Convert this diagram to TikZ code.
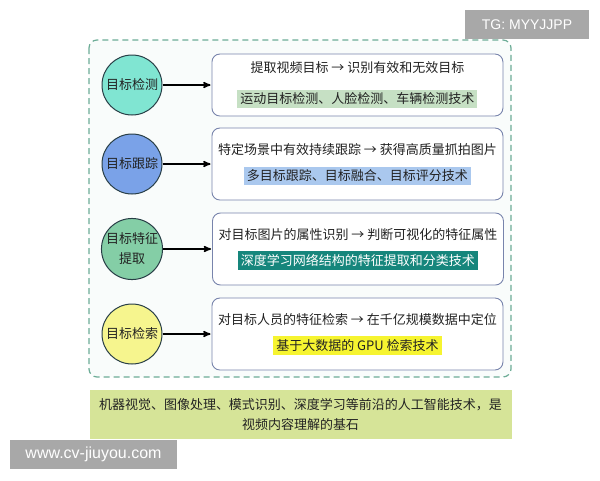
\documentclass[tikz,border=0pt]{standalone}
\usepackage{fontspec}
\setmainfont{Noto Sans CJK SC}
\newfontfamily\wmfont{Liberation Sans}
\usetikzlibrary{arrows,positioning}
\definecolor{framecol}{RGB}{108,172,150}
\definecolor{boxline}{RGB}{120,132,172}
\definecolor{ringline}{RGB}{40,62,70}
\definecolor{fdet}{RGB}{128,229,210}
\definecolor{ftrk}{RGB}{122,162,232}
\definecolor{ffea}{RGB}{132,206,166}
\definecolor{fret}{RGB}{246,245,142}
\definecolor{hldet}{RGB}{198,224,196}
\definecolor{hltrk}{RGB}{170,200,238}
\definecolor{hlfea}{RGB}{22,134,124}
\definecolor{hlret}{RGB}{246,244,48}
\definecolor{basefill}{RGB}{214,228,152}
\definecolor{txt}{RGB}{34,34,34}
\setlength{\fboxsep}{3pt}

\begin{document}
\begin{tikzpicture}[x=1pt,y=-1pt,>=stealth',shorten >=1pt,node distance=85pt,
		thick,text=txt,
		task node/.style={circle,draw=ringline,line width=1pt,minimum size=60pt,inner sep=0pt,
			align=center,font=\fontsize{13}{20}\selectfont},
		info node/.style={rectangle,rounded corners=8pt,draw=boxline,line width=0.9pt,fill=white,
			minimum width=291pt,minimum height=72pt,align=center,font=\fontsize{13}{16}\selectfont},
		wm node/.style={rectangle,fill=black!34,text=white,inner sep=0pt,minimum height=29pt,
			font=\wmfont}]
		
		\useasboundingbox (0,0) rectangle (600,480);
		\draw[framecol,dashed,dash pattern=on 6pt off 4pt,line width=1.2pt,rounded corners=8pt,
			fill=framecol!4] (89,40) rectangle (511,377);
		
		\node[task node,fill=fdet] (det) at (132,85) {目标检测};
		\node[task node,fill=ftrk] (trk) [below of=det,node distance=79pt] {目标跟踪};
		\node[task node,fill=ffea] (fea) [below of=trk] {目标特征\\提取};
		\node[task node,fill=fret] (ret) [below of=fea] {目标检索};
		
		\node[info node,minimum height=62pt] (detbox) [right=49pt of det]
			{提取视频目标 → 识别有效和无效目标\\[15pt]\colorbox{hldet}{运动目标检测、人脸检测、车辆检测技术}};
		\node[info node] (trkbox) [right=49pt of trk]
			{特定场景中有效持续跟踪 → 获得高质量抓拍图片\\[10pt]\colorbox{hltrk}{多目标跟踪、目标融合、目标评分技术}};
		\node[info node] (feabox) [right=49pt of fea]
			{对目标图片的属性识别 → 判断可视化的特征属性\\[10pt]\colorbox{hlfea}{\color{white}深度学习网络结构的特征提取和分类技术}};
		\node[info node] (retbox) [right=49pt of ret]
			{对目标人员的特征检索 → 在千亿规模数据中定位\\[10pt]\colorbox{hlret}{基于大数据的 GPU 检索技术}};
		
		\path[->,line width=1.5pt]
		(det) edge (detbox)
		(trk) edge (trkbox)
		(fea) edge (feabox)
		(ret) edge (retbox);
		
		\node[fill=basefill,minimum width=422pt,minimum height=49pt,inner sep=0pt,align=center,
			font=\fontsize{13}{20}\selectfont] (base) at (300.5,414.5)
			{机器视觉、图像处理、模式识别、深度学习等前沿的人工智能技术，是\\视频内容理解的基石};
		
		\node[wm node,minimum width=124pt,font=\wmfont\fontsize{14}{16}\selectfont] (tg) at (527,24.5) {TG: MYYJJPP};
		\node[wm node,minimum width=167pt,font=\wmfont\fontsize{16}{18}\selectfont] (site) at (93.5,454.5) {www.cv-jiuyou.com};
		\end{tikzpicture}
\end{document}
